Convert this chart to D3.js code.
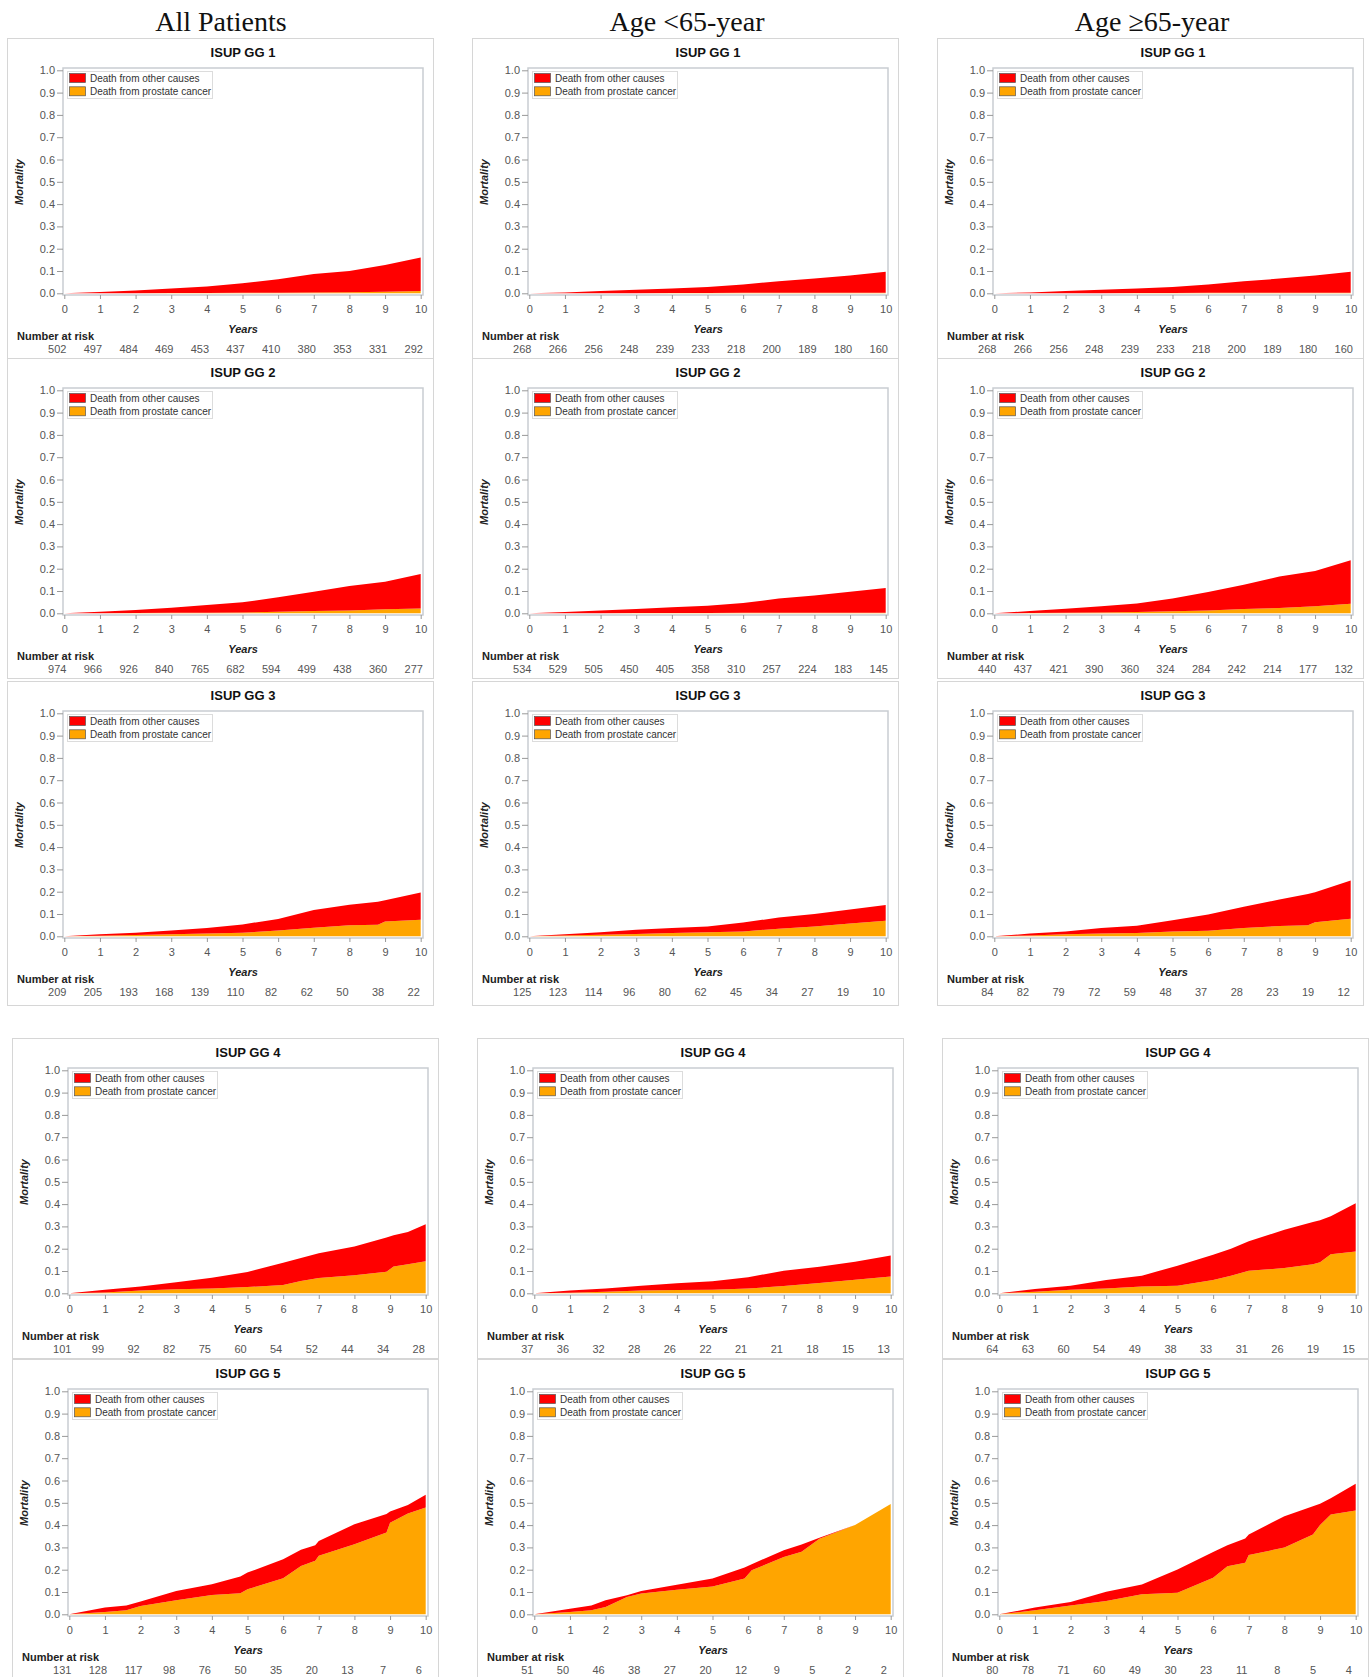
<!DOCTYPE html>
<html>
<head>
<meta charset="utf-8">
<script src="https://cdn.jsdelivr.net/npm/d3@7"></script>
<style>
  body { margin: 0; background: #fff; }
  .col-title { font-family: "Liberation Serif", "Times New Roman", serif; font-size: 28px; fill: #111; }
  .panel-title { font-family: "Liberation Sans", Arial, sans-serif; font-size: 13px; font-weight: bold; fill: #111; }
  .tick text { font-family: "Liberation Sans", Arial, sans-serif; font-size: 11px; fill: #555; }
  .tick line { stroke: #999; }
  .axis-label { font-family: "Liberation Sans", Arial, sans-serif; font-size: 11px; font-weight: bold; font-style: italic; fill: #222; }
  .risk-title { font-family: "Liberation Sans", Arial, sans-serif; font-size: 11px; font-weight: bold; fill: #222; }
  .risk { font-family: "Liberation Sans", Arial, sans-serif; font-size: 11px; fill: #555; }
  .legend-text { font-family: "Liberation Sans", Arial, sans-serif; font-size: 10px; fill: #333; }
</style>
</head>
<body>
<div id="wrapper"></div>
<script>
// column titles and panel titles
const cohortTitles = ["All Patients", "Age <65-year", "Age \u226565-year"]
const gradeTitles = ["ISUP GG 1", "ISUP GG 2", "ISUP GG 3", "ISUP GG 4", "ISUP GG 5"]
const seriesNames = ["Death from other causes", "Death from prostate cancer"]
const riskYears = [0, 1, 2, 3, 4, 5, 6, 7, 8, 9, 10]

// each point: [year, death from prostate cancer, prostate cancer + other causes]
const allCurves = [
  [[0,0,0],[1,0,0.006],[2,0,0.013],[3,0.001,0.021],[4,0.001,0.03],[5,0.002,0.045],[6,0.003,0.063],[7,0.004,0.087],[8,0.005,0.10],[9,0.007,0.127],[10,0.01,0.16]],
  [[0,0,0],[1,0,0.007],[2,0.001,0.015],[3,0.002,0.025],[4,0.003,0.037],[5,0.004,0.049],[6,0.007,0.072],[7,0.01,0.097],[8,0.013,0.122],[9,0.018,0.142],[10,0.022,0.176]],
  [[0,0,0],[1,0.003,0.009],[2,0.006,0.016],[3,0.009,0.026],[4,0.012,0.037],[5,0.016,0.053],[6,0.026,0.078],[7,0.038,0.118],[8,0.049,0.141],[8.8,0.052,0.155],[9,0.066,0.162],[10,0.074,0.196]],
  [[0,0,0],[1,0.004,0.016],[2,0.012,0.031],[3,0.018,0.049],[4,0.022,0.07],[5,0.028,0.096],[6,0.037,0.137],[6.5,0.055,0.158],[7,0.069,0.18],[8,0.081,0.21],[8.9,0.097,0.25],[9.1,0.12,0.26],[9.5,0.13,0.275],[10,0.144,0.31]],
  [[0,0,0],[1,0.01,0.03],[1.6,0.018,0.04],[2,0.037,0.057],[3,0.063,0.105],[4,0.087,0.135],[4.8,0.094,0.17],[5,0.112,0.187],[6,0.162,0.247],[6.5,0.217,0.29],[6.9,0.24,0.31],[7,0.262,0.329],[8,0.314,0.404],[8.9,0.367,0.45],[9,0.41,0.461],[9.5,0.452,0.49],[10,0.479,0.536]]
]
const youngCurves = [
  [[0,0,0],[1,0,0.004],[2,0,0.01],[3,0,0.016],[4,0.001,0.022],[5,0.001,0.028],[6,0.002,0.04],[7,0.002,0.054],[8,0.002,0.066],[9,0.003,0.08],[10,0.003,0.097]],
  [[0,0,0],[1,0,0.006],[2,0,0.012],[3,0.001,0.019],[4,0.001,0.027],[5,0.001,0.034],[6,0.002,0.046],[7,0.002,0.066],[8,0.002,0.08],[9,0.003,0.097],[10,0.003,0.113]],
  [[0,0,0],[1,0.004,0.009],[2,0.007,0.018],[3,0.01,0.029],[4,0.015,0.037],[5,0.018,0.044],[6,0.022,0.062],[7,0.034,0.084],[8,0.044,0.1],[9,0.057,0.12],[10,0.07,0.14]],
  [[0,0,0],[1,0.003,0.012],[2,0.007,0.022],[3,0.012,0.034],[4,0.015,0.045],[5,0.016,0.054],[6,0.021,0.072],[7,0.033,0.101],[8,0.046,0.119],[9,0.061,0.142],[10,0.075,0.169]],
  [[0,0,0],[1,0.01,0.025],[1.6,0.018,0.04],[2,0.033,0.063],[2.6,0.078,0.085],[3,0.093,0.104],[4,0.11,0.133],[5,0.125,0.16],[5.9,0.16,0.21],[6.1,0.197,0.225],[7,0.257,0.287],[7.5,0.28,0.313],[8,0.339,0.343],[9,0.4,0.4],[10,0.495,0.495]]
]
const olderCurves = [
  [[0,0,0],[1,0,0.004],[2,0,0.01],[3,0,0.016],[4,0.001,0.022],[5,0.001,0.028],[6,0.002,0.04],[7,0.002,0.054],[8,0.002,0.066],[9,0.003,0.08],[10,0.003,0.097]],
  [[0,0,0],[1,0.001,0.01],[2,0.003,0.02],[3,0.004,0.032],[4,0.006,0.044],[5,0.009,0.066],[6,0.013,0.096],[7,0.019,0.128],[8,0.024,0.165],[9,0.032,0.19],[10,0.043,0.238]],
  [[0,0,0],[1,0.004,0.012],[2,0.009,0.022],[3,0.012,0.037],[4,0.015,0.047],[5,0.021,0.072],[6,0.025,0.098],[7,0.037,0.132],[8,0.046,0.165],[8.8,0.05,0.19],[9,0.063,0.197],[10,0.079,0.25]],
  [[0,0,0],[1,0.007,0.019],[2,0.016,0.034],[3,0.022,0.06],[4,0.03,0.079],[5,0.034,0.124],[6,0.06,0.173],[6.5,0.079,0.2],[7,0.101,0.233],[8,0.113,0.285],[8.8,0.13,0.32],[9,0.139,0.328],[9.3,0.175,0.345],[10,0.188,0.404]],
  [[0,0,0],[1,0.018,0.03],[2,0.04,0.055],[3,0.06,0.101],[4,0.09,0.134],[5,0.097,0.201],[6,0.164,0.279],[6.4,0.216,0.31],[6.9,0.231,0.34],[7,0.266,0.358],[8,0.299,0.44],[8.8,0.358,0.485],[9,0.4,0.496],[9.3,0.448,0.52],[10,0.466,0.585]]
]

// number at risk, years 0..10
const allRisk = [
  [502,497,484,469,453,437,410,380,353,331,292],
  [974,966,926,840,765,682,594,499,438,360,277],
  [209,205,193,168,139,110,82,62,50,38,22],
  [101,99,92,82,75,60,54,52,44,34,28],
  [131,128,117,98,76,50,35,20,13,7,6]
]
const youngRisk = [
  [268,266,256,248,239,233,218,200,189,180,160],
  [534,529,505,450,405,358,310,257,224,183,145],
  [125,123,114,96,80,62,45,34,27,19,10],
  [37,36,32,28,26,22,21,21,18,15,13],
  [51,50,46,38,27,20,12,9,5,2,2]
]
const olderRisk = [
  [268,266,256,248,239,233,218,200,189,180,160],
  [440,437,421,390,360,324,284,242,214,177,132],
  [84,82,79,72,59,48,37,28,23,19,12],
  [64,63,60,54,49,38,33,31,26,19,15],
  [80,78,71,60,49,30,23,11,8,5,4]
]

const cohortCurves = [allCurves, youngCurves, olderCurves]
const cohortRisk = [allRisk, youngRisk, olderRisk]
const colors = ["#ff0000", "#ffa500"]

// layout
const width = 1372, height = 1677
const panelW = 426, panelH = 320
const colXTop = [7, 472, 937]
const colXBottom = [12, 477, 942]
const rowY = [38, 358, 681, 1038, 1359]
const titleX = [221, 687, 1152]

const svg = d3.select("#wrapper").append("svg")
    .attr("width", width)
    .attr("height", height)

svg.selectAll(".col-title")
  .data(cohortTitles)
  .join("text")
    .attr("class", "col-title")
    .attr("x", (d, i) => titleX[i])
    .attr("y", 31)
    .attr("text-anchor", "middle")
    .text(d => d)

const x = d3.scaleLinear().domain([0, 10]).range([57.3, 413.7])
const y = d3.scaleLinear().domain([0, 1]).range([255.3, 32.3])
const plot = { left: 56, right: 416, top: 30, bottom: 257 }

const cancerArea = d3.area()
    .x(d => x(d[0]))
    .y0(y(0))
    .y1(d => y(d[1]))
const otherArea = d3.area()
    .x(d => x(d[0]))
    .y0(d => y(d[1]))
    .y1(d => y(d[2]))

cohortCurves.forEach((curves, c) => {
  curves.forEach((points, r) => {
    const px = r < 3 ? colXTop[c] : colXBottom[c]
    const g = svg.append("g")
        .attr("transform", `translate(${px},${rowY[r]})`)

    g.append("rect")
        .attr("x", 0.5).attr("y", 0.5)
        .attr("width", panelW).attr("height", r == 2 ? panelH + 4 : panelH)
        .attr("fill", "#fff")
        .attr("stroke", "#d6d6d6")

    g.append("text")
        .attr("class", "panel-title")
        .attr("x", (plot.left + plot.right) / 2)
        .attr("y", 19)
        .attr("text-anchor", "middle")
        .text(gradeTitles[r])

    // areas
    g.append("path")
        .attr("d", cancerArea(points))
        .attr("fill", colors[1])
    g.append("path")
        .attr("d", otherArea(points))
        .attr("fill", colors[0])

    g.append("rect")
        .attr("x", plot.left).attr("y", plot.top)
        .attr("width", plot.right - plot.left)
        .attr("height", plot.bottom - plot.top)
        .attr("fill", "none")
        .attr("stroke", "#c9cdd2")
        .attr("stroke-width", 1.5)

    // axes
    const yAxis = g.append("g")
        .attr("transform", `translate(${plot.left},0)`)
        .call(d3.axisLeft(y).tickValues(d3.range(0, 11).map(v => v / 10))
          .tickFormat(d3.format(".1f")).tickSize(6).tickPadding(2))
    yAxis.select(".domain").remove()

    const xAxis = g.append("g")
        .attr("transform", `translate(0,${plot.bottom})`)
        .call(d3.axisBottom(x).tickValues(riskYears).tickFormat(d3.format("d")).tickSize(4).tickPadding(6))
    xAxis.select(".domain").remove()

    g.append("text")
        .attr("class", "axis-label")
        .attr("x", (plot.left + plot.right) / 2)
        .attr("y", 295)
        .attr("text-anchor", "middle")
        .text("Years")

    g.append("text")
        .attr("class", "axis-label")
        .attr("transform", `translate(16,144) rotate(-90)`)
        .attr("text-anchor", "middle")
        .text("Mortality")

    // number at risk
    g.append("text")
        .attr("class", "risk-title")
        .attr("x", 10)
        .attr("y", 302)
        .text("Number at risk")

    g.selectAll(".risk")
      .data(cohortRisk[c][r])
      .join("text")
        .attr("class", "risk")
        .attr("x", (d, i) => x(riskYears[i]) - 7)
        .attr("y", 315)
        .attr("text-anchor", "middle")
        .text(d => d)

    // legend
    const legend = g.append("g")
    legend.append("rect")
        .attr("x", 60.5).attr("y", 33.5)
        .attr("width", 145).attr("height", 27)
        .attr("fill", "#fff")
        .attr("stroke", "#dcdcdc")
    legend.selectAll(".swatch")
      .data(seriesNames)
      .join("rect")
        .attr("class", "swatch")
        .attr("x", 62.5)
        .attr("y", (d, i) => 35.5 + i * 13.3)
        .attr("width", 16)
        .attr("height", 9)
        .attr("fill", (d, i) => colors[i])
        .attr("stroke", "#555")
        .attr("stroke-width", 0.7)
    legend.selectAll(".legend-text")
      .data(seriesNames)
      .join("text")
        .attr("class", "legend-text")
        .attr("x", 83)
        .attr("y", (d, i) => 43.8 + i * 13.3)
        .text(d => d)
  })
})
</script>
</body>
</html>
